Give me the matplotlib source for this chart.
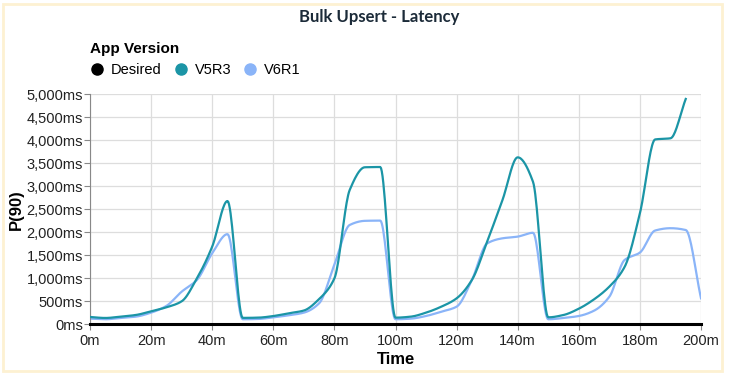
import matplotlib.pyplot as plt
from matplotlib.lines import Line2D
from matplotlib.patches import Rectangle
import numpy as np

# data (minutes, ms)
t_v5 = [0, 5, 10, 15, 20, 25, 30, 35, 40, 45, 50, 55, 60, 65, 70, 75, 80, 85, 90, 95,
        100, 105, 110, 115, 120, 125, 130, 135, 140, 145, 150, 155, 160, 165, 170,
        175, 180, 185, 190, 195]
v5r3 = [160, 138, 167, 203, 283, 370, 500, 1000, 1690, 2680, 140, 145, 180, 240, 300,
        550, 1000, 2920, 3415, 3420, 145, 167, 254, 384, 565, 964, 1800, 2700, 3630,
        3100, 152, 203, 340, 544, 820, 1250, 2415, 4020, 4045, 4900]

t_v6 = [0, 5, 10, 15, 20, 25, 30, 35, 40, 45, 50, 55, 60, 65, 70, 75, 80, 85, 90, 95,
        100, 105, 110, 115, 120, 125, 130, 135, 140, 145, 150, 155, 160, 165, 170,
        175, 180, 185, 190, 195, 200]
v6r1 = [123, 110, 138, 167, 254, 400, 710, 965, 1545, 1960, 110, 116, 152, 196, 254,
        457, 1300, 2160, 2250, 2255, 110, 123, 181, 275, 384, 964, 1760, 1870, 1907,
        1990, 110, 138, 181, 297, 600, 1400, 1560, 2040, 2090, 2050, 565]

t_desired = [0, 200]
desired = [0, 0]

y_ticks = [0, 500, 1000, 1500, 2000, 2500, 3000, 3500, 4000, 4500, 5000]
x_ticks = [0, 20, 40, 60, 80, 100, 120, 140, 160, 180, 200]

c_v5 = '#1b95a6'
c_v6 = '#8ab4f8'


def pchip(x, y, n=20):
    # monotone cubic so the curve looks like the smoothed original
    x = np.asarray(x, float)
    y = np.asarray(y, float)
    h = np.diff(x)
    d = np.diff(y) / h
    m = np.zeros_like(y)
    for i in range(1, len(y) - 1):
        if d[i - 1] * d[i] > 0:
            w1 = 2 * h[i] + h[i - 1]
            w2 = h[i] + 2 * h[i - 1]
            m[i] = (w1 + w2) / (w1 / d[i - 1] + w2 / d[i])
    m[0] = d[0]
    m[-1] = d[-1]
    xs, ys = [], []
    for i in range(len(h)):
        s = np.linspace(0, 1, n, endpoint=False)
        h00 = 2 * s**3 - 3 * s**2 + 1
        h10 = s**3 - 2 * s**2 + s
        h01 = -2 * s**3 + 3 * s**2
        h11 = s**3 - s**2
        xs.append(x[i] + s * h[i])
        ys.append(h00 * y[i] + h10 * h[i] * m[i] + h01 * y[i + 1] + h11 * h[i] * m[i + 1])
    xs.append([x[-1]])
    ys.append([y[-1]])
    return np.concatenate(xs), np.concatenate(ys)


plt.rcParams['font.family'] = ['Liberation Sans', 'DejaVu Sans']

fig = plt.figure(figsize=(7.3, 3.82), dpi=100)
fig.patches.append(Rectangle((0.004, 0.03), 0.985, 0.96, transform=fig.transFigure,
                             fill=False, edgecolor='#fdf1d2', linewidth=2))
ax = fig.add_axes([0.1233, 0.151, 0.837, 0.602])

xs, ys = pchip(t_v5, v5r3)
ax.plot(xs, ys, color=c_v5, linewidth=1.6, zorder=3)
xs, ys = pchip(t_v6, v6r1)
ax.plot(xs, ys, color=c_v6, linewidth=1.6, zorder=2)
ax.plot(t_desired, desired, color='black', linewidth=2.2, zorder=4, clip_on=False)

ax.set_xlim(0, 200)
ax.set_ylim(0, 5000)
ax.set_xticks(x_ticks)
ax.set_xticklabels([f'{v}m' for v in x_ticks])
ax.set_yticks(y_ticks)
ax.set_yticklabels([f'{v:,}ms' for v in y_ticks])
ax.tick_params(axis='both', labelsize=10.5, colors='#888888', labelcolor='#222222',
               length=4, width=0.8, pad=1)
ax.tick_params(axis='x', pad=3)
ax.grid(True, color='#dddddd', linewidth=0.9)
ax.set_axisbelow(True)
for s in ['top', 'right', 'bottom']:
    ax.spines[s].set_visible(False)
ax.spines['left'].set_color('#888888')

ax.set_xlabel('Time', fontsize=12, fontweight='bold', labelpad=3)
ax.set_ylabel('P(90)', fontsize=12, fontweight='bold', labelpad=2)

fig.text(0.52, 0.955, 'Bulk Upsert - Latency', ha='center', va='center',
         fontsize=12, fontweight='bold', color='#1c2b39', family=['Lato', 'DejaVu Sans'])

handles = [Line2D([], [], marker='o', linestyle='', markersize=8, color=c)
           for c in ['black', c_v5, c_v6]]
leg = fig.legend(handles, ['Desired', 'V5R3', 'V6R1'], ncol=3, loc='upper left',
                 bbox_to_anchor=(0.109, 0.918), frameon=False, title='App Version',
                 alignment='left', fontsize=10.5, handletextpad=0.45,
                 columnspacing=0.8, handlelength=1.0, borderpad=0.2)
leg.get_title().set_fontweight('bold')
leg.get_title().set_fontsize(11)

fig.savefig('out.png', dpi=100)
